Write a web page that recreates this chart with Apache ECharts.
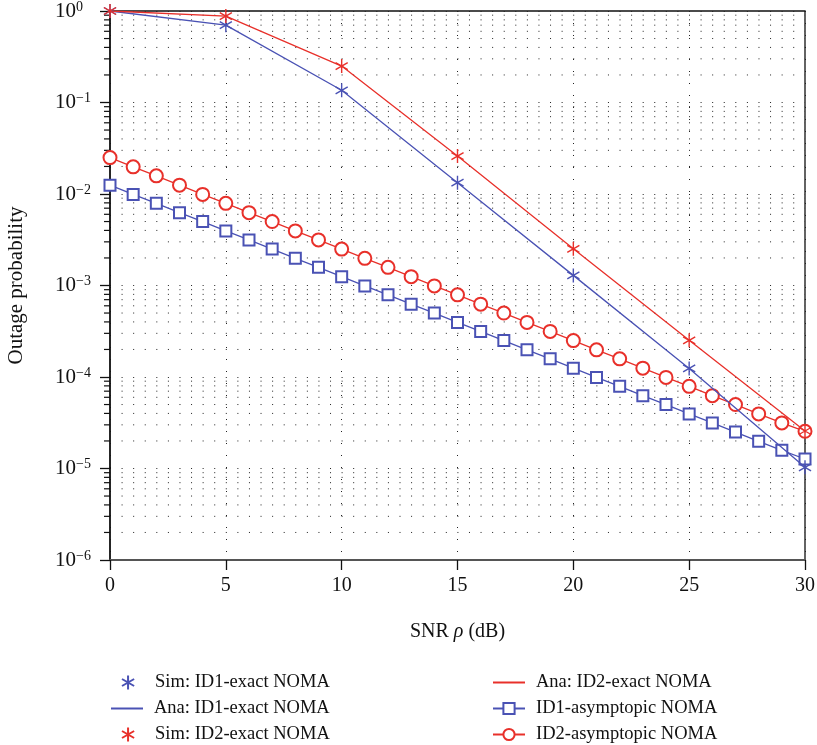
<!DOCTYPE html>
<html>
<head>
<meta charset="utf-8">
<script src="https://cdn.jsdelivr.net/npm/echarts@6/dist/echarts.min.js"></script>
<style>
html,body{margin:0;padding:0;background:#fff;}
#chart{width:817px;height:745px;}
</style>
</head>
<body>
<div id="chart"></div>
<script>
// ---- data ----
const snrCoarse = [0, 5, 10, 15, 20, 25, 30];
const simID1 = [1.0, 0.70, 0.136, 0.0133, 0.00129, 0.000124, 0.0000103];
const anaID1 = [1.0, 0.70, 0.136, 0.0133, 0.00129, 0.000124, 0.0000103];
const simID2 = [1.0, 0.88, 0.25, 0.026, 0.00252, 0.000252, 0.0000257];
const anaID2 = [1.0, 0.88, 0.25, 0.026, 0.00252, 0.000252, 0.0000257];
const snrFine = [0,1,2,3,4,5,6,7,8,9,10,11,12,13,14,15,16,17,18,19,20,21,22,23,24,25,26,27,28,29,30];
const asymID1 = [1.25e-2, 9.9e-3, 7.9e-3, 6.25e-3, 5.0e-3, 3.95e-3, 3.15e-3, 2.5e-3, 1.98e-3, 1.58e-3,
  1.25e-3, 9.9e-4, 7.9e-4, 6.25e-4, 5.0e-4, 3.95e-4, 3.15e-4, 2.5e-4, 1.98e-4, 1.58e-4,
  1.25e-4, 9.9e-5, 7.9e-5, 6.25e-5, 5.0e-5, 3.95e-5, 3.15e-5, 2.5e-5, 1.98e-5, 1.58e-5, 1.27e-5];
const asymID2 = [2.5e-2, 1.98e-2, 1.58e-2, 1.25e-2, 9.9e-3, 7.9e-3, 6.25e-3, 5.0e-3, 3.95e-3, 3.15e-3,
  2.5e-3, 1.98e-3, 1.58e-3, 1.25e-3, 9.9e-4, 7.9e-4, 6.25e-4, 5.0e-4, 3.95e-4, 3.15e-4,
  2.5e-4, 1.98e-4, 1.58e-4, 1.25e-4, 9.9e-5, 7.9e-5, 6.25e-5, 5.0e-5, 3.95e-5, 3.15e-5, 2.55e-5];
const names = ['Sim: ID1-exact NOMA', 'Ana: ID1-exact NOMA', 'Sim: ID2-exact NOMA',
               'Ana: ID2-exact NOMA', 'ID1-asymptopic NOMA', 'ID2-asymptopic NOMA'];
const xTicks = [0, 5, 10, 15, 20, 25, 30];
const decades = [1e-6, 1e-5, 1e-4, 1e-3, 1e-2, 1e-1];
const mantissas = [2, 3, 4, 5, 6, 7, 8, 9];
const xTitle = 'SNR';
const yTitle = 'Outage probability';

// ---- helpers ----
const pair = (xs, ys) => xs.map((x, i) => [x, ys[i]]);
const minorVals = [];
decades.forEach(d => mantissas.forEach(m => minorVals.push([0, m * d])));

const BLUE = '#4A52B4';
const RED = '#E8302A';
const FONT = '"Liberation Serif", "DejaVu Serif", serif';
const STAR = 'path://M0,-1L0,1M-0.866,-0.5L0.866,0.5M-0.866,0.5L0.866,-0.5';
const GRID_DASH = [1, 10.58];

// legend placement: [left, top] for each entry (column, row)
const legendPos = [[116, 668], [105, 694], [116, 720], [487, 668], [487, 694], [487, 720]];
const legends = names.map((n, i) => ({
  left: legendPos[i][0], top: legendPos[i][1],
  itemWidth: 32, itemHeight: 14, selectedMode: false,
  textStyle: {fontFamily: FONT, fontSize: 18.5, color: '#111', padding: [0, 0, 0, 6]},
  data: [(i === 1 || i === 3) ? {name: n, itemStyle: {opacity: 0}} : {name: n}]
}));

const chart = echarts.init(document.getElementById('chart'), null, {renderer: 'canvas'});
const option = {
  animation: false,
  backgroundColor: '#fff',
  grid: {left: 110, right: 12, top: 11, bottom: 185, show: true, borderColor: '#111', borderWidth: 1.3,
         backgroundColor: 'transparent', outerBoundsMode: 'none', containLabel: false},
  xAxis: {
    type: 'value', min: 0, max: 30, interval: 5,
    name: '{n|' + xTitle + ' }{i|ρ}{n| (dB)}',
    nameLocation: 'middle', nameGap: 62,
    nameTextStyle: {rich: {n: {fontFamily: FONT, fontSize: 20, color: '#111'}, i: {fontFamily: FONT, fontSize: 20, fontStyle: 'italic', color: '#111'}}},
    axisLine: {lineStyle: {color: '#555', width: 2}},
    axisTick: {inside: false, length: 10, lineStyle: {color: '#111', width: 1.3}},
    axisLabel: {margin: 16, fontFamily: FONT, fontSize: 20, color: '#111'},
    splitLine: {show: true, lineStyle: {color: '#222', width: 1, type: [1, 11]}},
  },
  yAxis: {
    type: 'log', min: 1e-6, max: 1, logBase: 10,
    name: yTitle, nameLocation: 'middle', nameGap: 83,
    nameTextStyle: {fontFamily: FONT, fontSize: 21, color: '#111'},
    axisLine: {show: true, lineStyle: {color: '#111', width: 1.5}},
    axisTick: {inside: false, length: 10, lineStyle: {color: '#111', width: 1.3}},
    axisLabel: {
      margin: 55, align: 'left',
      formatter: v => {
        const e = Math.round(Math.log10(v));
        return '{b|10}{s|' + (e < 0 ? '\u2212' + (-e) : e) + '}';
      },
      rich: {
        b: {fontFamily: FONT, fontSize: 21, color: '#111', lineHeight: 22},
        s: {fontFamily: FONT, fontSize: 14, color: '#111', verticalAlign: 'top', lineHeight: 13}
      }
    },
    splitLine: {show: true, lineStyle: {color: '#222', width: 1, type: GRID_DASH}},
  },
  legend: legends,
  series: [
    {
      type: 'custom', silent: true, clip: false, z: 1,
      data: minorVals, encode: {x: 0, y: 1},
      renderItem: (params, api) => {
        const v = api.value(1);
        const a = api.coord([0, v]);
        const b = api.coord([30, v]);
        return {type: 'group', children: [
          {type: 'line', shape: {x1: a[0], y1: a[1], x2: b[0], y2: b[1]}, style: {stroke: '#222', lineWidth: 1, lineDash: GRID_DASH}},
          {type: 'line', shape: {x1: a[0] - 6, y1: a[1], x2: a[0], y2: a[1]}, style: {stroke: '#111', lineWidth: 1.2}}
        ]};
      }
    },
    {
      name: names[4], type: 'line', data: pair(snrFine, asymID1), z: 3,
      symbol: 'emptyRect', symbolSize: 11,
      lineStyle: {color: BLUE, width: 1.3}, itemStyle: {color: BLUE, borderColor: BLUE, borderWidth: 1.4}
    },
    {
      name: names[5], type: 'line', data: pair(snrFine, asymID2), z: 3,
      symbol: 'emptyCircle', symbolSize: 13,
      lineStyle: {color: RED, width: 1.3}, itemStyle: {color: RED, borderColor: RED, borderWidth: 1.4}
    },
    {
      name: names[1], type: 'line', data: pair(snrCoarse, anaID1), z: 4,
      symbol: 'none', lineStyle: {color: BLUE, width: 1.3}, itemStyle: {color: BLUE}
    },
    {
      name: names[3], type: 'line', data: pair(snrCoarse, anaID2), z: 4,
      symbol: 'none', lineStyle: {color: RED, width: 1.3}, itemStyle: {color: RED}
    },
    {
      name: names[0], type: 'scatter', data: pair(snrCoarse, simID1), z: 5,
      symbol: STAR, symbolSize: 14, symbolKeepAspect: true,
      itemStyle: {color: BLUE, borderColor: BLUE, borderWidth: 1.4, opacity: 1}
    },
    {
      name: names[2], type: 'scatter', data: pair(snrCoarse, simID2), z: 5,
      symbol: STAR, symbolSize: 14, symbolKeepAspect: true,
      itemStyle: {color: RED, borderColor: RED, borderWidth: 1.4, opacity: 1}
    }
  ]
};
chart.setOption(option);
</script>
</body>
</html>
